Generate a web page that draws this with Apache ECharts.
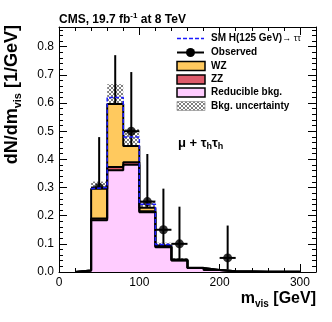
<!DOCTYPE html>
<html><head><meta charset="utf-8">
<script src="https://cdn.jsdelivr.net/npm/echarts@6/dist/echarts.min.js"></script>
<style>html,body{margin:0;padding:0;background:#fff}#c{width:332px;height:322px}</style>
</head><body><div id="c"></div>
<script>
// ---- data ----
const binEdges  = [20,40,60,80,100,120,140,160,180,200,220,240,260,280,300];
const reducible = [0.005,0.184,0.361,0.381,0.212,0.088,0.041,0.014,0.007,0.003,0.002,0.001,0.001,0.001];
const zz        = [0.000,0.006,0.012,0.009,0.004,0.002,0.001,0.000,0.000,0.000,0.000,0.000,0.000,0.000];
const wz        = [0.000,0.106,0.224,0.057,0.012,0.004,0.002,0.001,0.000,0.000,0.000,0.000,0.000,0.000];
const higgs     = [0.000,0.004,0.023,0.032,0.013,0.004,0.000,0.000,0.000,0.000,0.000,0.000,0.000,0.000];
const bkgUnc    = [0.000,0.025,0.070,0.060,0.025,0.010,0.005,0.002,0.001,0.000,0.000,0.000,0.000,0.000];
const obsX      = [50,70,90,110,130,150,210];
const obsY      = [0.30,0.55,0.50,0.25,0.15,0.10,0.05];
const obsLow    = [0.181,0.385,0.344,0.142,0.068,0.035,0.0085];
const obsHigh   = [0.479,0.770,0.710,0.419,0.296,0.232,0.165];
const obsHalfW  = 10;
const xTickLabels = ['0','100','200','300'];
const yTickLabels = ['0.0','0.1','0.2','0.3','0.4','0.5','0.6','0.7','0.8'];

const FONT = 'Liberation Sans, Arial, Helvetica, sans-serif';
const C_WZ = '#FFC95E', C_ZZ = '#DE5A6A', C_RED = '#FFCCFF';

const cum1 = reducible.slice();
const cum2 = cum1.map((v,i)=>v+zz[i]);
const cum3 = cum2.map((v,i)=>v+wz[i]);
const cum4 = cum3.map((v,i)=>v+higgs[i]);

function stepData(vals){
  const n = vals.length;
  const d = [[binEdges[0], 0]];
  for(let i=0;i<n;i++) d.push([binEdges[i], vals[i]]);
  d.push([binEdges[n], vals[n-1]]);
  d.push([binEdges[n], 0]);
  return d;
}
function sigStep(){
  const d=[];
  const idx = higgs.map((h,i)=>h>0?i:-1).filter(i=>i>=0);
  const a=idx[0], b=idx[idx.length-1];
  d.push([binEdges[a], cum3[a]]);
  for(let i=a;i<=b;i++) d.push([binEdges[i], cum4[i]]);
  d.push([binEdges[b+1], cum4[b]]);
  d.push([binEdges[b+1], cum3[b]]);
  return d;
}

// cross-hatch pattern
const pc = document.createElement('canvas'); pc.width=4; pc.height=4;
const px = pc.getContext('2d');
px.fillStyle='rgba(255,255,255,0.25)'; px.fillRect(0,0,4,4);
px.fillStyle='rgba(95,95,95,0.8)';
[[0,0],[1,1],[2,2],[3,3],[3,0],[2,1],[1,2],[0,3]].forEach(p=>px.fillRect(p[0],p[1],1,1));
const hatch = {image: pc, repeat: 'repeat'};

const chart = echarts.init(document.getElementById('c'), null, {renderer:'canvas'});

function axisX(pos, show){
  return {type:'value', position:pos, min:0, max:320, interval:100,
    axisLine:{show:true, onZero:false, lineStyle:{color:'#000', width:1}},
    axisTick:{show:true, inside:true, length:8, lineStyle:{color:'#000'}},
    minorTick:{show:true, splitNumber:5, length:4, lineStyle:{color:'#000'}},
    splitLine:{show:false}, minorSplitLine:{show:false},
    axisLabel:{show:show, color:'#000', fontSize:12, fontFamily:FONT, margin:5,
      formatter:v=>{const i=xTickLabels.indexOf(String(v)); return i>=0?xTickLabels[i]:'';}}};
}
function axisY(pos, show){
  return {type:'value', position:pos, min:0, max:0.87, interval:0.1,
    axisLine:{show:true, onZero:false, lineStyle:{color:'#000', width:1}},
    axisTick:{show:true, inside:true, length:8, lineStyle:{color:'#000'}},
    minorTick:{show:true, splitNumber:5, length:4, lineStyle:{color:'#000'}},
    splitLine:{show:false}, minorSplitLine:{show:false},
    axisLabel:{show:show, color:'#000', fontSize:12, fontFamily:FONT, margin:5,
      formatter:v=>{const i=Math.round(v*10); return (v<0.85 && yTickLabels[i])?yTickLabels[i]:'';}}};
}

function areaSeries(name, vals, color){
  return {name, type:'line', step:'end', data:stepData(vals), symbol:'none', silent:true,
    lineStyle:{color:'#000', width:2}, areaStyle:{color, opacity:1}, xAxisIndex:0, yAxisIndex:0};
}

const option = {
  animation:false,
  grid:{left:59, right:16, top:27, bottom:50, containLabel:false},
  xAxis:[axisX('bottom', true), axisX('top', false)],
  yAxis:[axisY('left', true), axisY('right', false)],
  series:[
    areaSeries('WZ', cum3, C_WZ),
    areaSeries('ZZ', cum2, C_ZZ),
    areaSeries('Reducible bkg.', cum1, C_RED),
    {name:'Bkg. uncertainty', type:'custom', xAxisIndex:0, yAxisIndex:0, silent:true,
      data: bkgUnc.map((u,i)=>[i,u]),
      renderItem:(params, api)=>{
        const i = api.value(0), u = api.value(1);
        if(!(u>0)) return null;
        const p0 = api.coord([binEdges[i], cum3[i]+u]);
        const p1 = api.coord([binEdges[i+1], Math.max(0,cum3[i]-u)]);
        return {type:'rect', shape:{x:p0[0], y:p0[1], width:p1[0]-p0[0], height:p1[1]-p0[1]},
          style:{fill:hatch, stroke:null}};
      }},
    {name:'SM H', type:'line', step:'end', data:sigStep(), symbol:'none', silent:true,
      lineStyle:{color:'#1a1aff', width:1.5, type:[4,2]}},
    {name:'Observed bars', type:'custom', silent:true,
      data: obsX.map((x,i)=>[x, obsY[i], obsLow[i], obsHigh[i]]),
      renderItem:(params, api)=>{
        const x=api.value(0), y=api.value(1), lo=api.value(2), hi=api.value(3);
        const a=api.coord([x,lo]), b=api.coord([x,hi]);
        const l=api.coord([x-obsHalfW,y]), r=api.coord([x+obsHalfW,y]);
        return {type:'group', children:[
          {type:'line', shape:{x1:a[0],y1:a[1],x2:b[0],y2:b[1]}, style:{stroke:'#000', lineWidth:2}},
          {type:'line', shape:{x1:l[0],y1:l[1],x2:r[0],y2:r[1]}, style:{stroke:'#000', lineWidth:2}}
        ]};
      }},
    {name:'Observed', type:'scatter', data: obsX.map((x,i)=>[x,obsY[i]]), symbol:'circle', symbolSize:9,
      itemStyle:{color:'#000'}, silent:true}
  ],
  graphic:[
    {type:'text', x:59, y:12, style:{text:'{b|CMS, 19.7 fb}{p|-1}{b| at 8 TeV}', font:'bold 12px '+FONT,
      rich:{b:{fontSize:12, fontWeight:'bold', fontFamily:FONT, lineHeight:14, verticalAlign:'bottom'},
            p:{fontSize:8, fontWeight:'bold', fontFamily:FONT, lineHeight:14, verticalAlign:'top'}}}},
    {type:'text', x:12, y:25, rotation:Math.PI/2, style:{text:'{m|dN/dm}{s|vis}{m| [1/GeV]}', x:0, y:0,
      align:'right', verticalAlign:'middle', textAlign:'right', textVerticalAlign:'middle',
      rich:{m:{fontSize:18, fontWeight:'bold', fontFamily:FONT, lineHeight:22},
            s:{fontSize:11, fontWeight:'bold', fontFamily:FONT, lineHeight:11, verticalAlign:'bottom'}}}},
    {type:'text', x:316, y:299, style:{text:'{m|m}{s|vis}{m| [GeV]}', x:0, y:0,
      align:'right', verticalAlign:'middle', textAlign:'right', textVerticalAlign:'middle',
      rich:{m:{fontSize:16, fontWeight:'bold', fontFamily:FONT, lineHeight:20},
            s:{fontSize:10, fontWeight:'bold', fontFamily:FONT, lineHeight:10, verticalAlign:'bottom'}}}},
    {type:'text', x:178, y:143, style:{text:'{m|μ + τ}{s|h}{m|τ}{s|h}', x:0, y:0,
      align:'left', verticalAlign:'middle', textAlign:'left', textVerticalAlign:'middle',
      rich:{m:{fontSize:13, fontWeight:'bold', fontFamily:FONT, lineHeight:16},
            s:{fontSize:9, fontWeight:'bold', fontFamily:FONT, lineHeight:8, verticalAlign:'bottom'}}}},
    // legend
    {type:'line', shape:{x1:177,y1:38.5,x2:204,y2:38.5}, style:{stroke:'#1a1aff', lineWidth:1.5, lineDash:[4,2]}},
    {type:'text', x:211, y:38.5, style:{text:'{b|SM H(125 GeV)}{t|→ ττ}', x:0, y:0, verticalAlign:'middle', textVerticalAlign:'middle',
      rich:{b:{fontSize:10, fontWeight:'bold', fontFamily:FONT}, t:{fontSize:9, fontFamily:FONT, color:'#444'}}}},
    {type:'line', shape:{x1:177,y1:52.5,x2:204,y2:52.5}, style:{stroke:'#000', lineWidth:2}},
    {type:'circle', shape:{cx:190.5, cy:52.5, r:4.5}, style:{fill:'#000'}},
    {type:'text', x:211, y:52.5, style:{text:'Observed', x:0,y:0, font:'bold 10px '+FONT, verticalAlign:'middle', textVerticalAlign:'middle', fill:'#000'}},
    {type:'rect', shape:{x:177, y:61.5, width:28, height:9}, style:{fill:C_WZ, stroke:'#000', lineWidth:1.5}},
    {type:'text', x:211, y:66, style:{text:'WZ', x:0,y:0, font:'bold 10px '+FONT, verticalAlign:'middle', textVerticalAlign:'middle', fill:'#000'}},
    {type:'rect', shape:{x:177, y:75, width:28, height:9}, style:{fill:C_ZZ, stroke:'#000', lineWidth:1.5}},
    {type:'text', x:211, y:79.5, style:{text:'ZZ', x:0,y:0, font:'bold 10px '+FONT, verticalAlign:'middle', textVerticalAlign:'middle', fill:'#000'}},
    {type:'rect', shape:{x:177, y:88, width:28, height:9}, style:{fill:C_RED, stroke:'#000', lineWidth:1.5}},
    {type:'text', x:211, y:92.5, style:{text:'Reducible bkg.', x:0,y:0, font:'bold 10px '+FONT, verticalAlign:'middle', textVerticalAlign:'middle', fill:'#000'}},
    {type:'rect', shape:{x:177, y:101.5, width:28, height:9}, style:{fill:hatch, stroke:'#999', lineWidth:0.8}},
    {type:'text', x:211, y:106, style:{text:'Bkg. uncertainty', x:0,y:0, font:'bold 10px '+FONT, verticalAlign:'middle', textVerticalAlign:'middle', fill:'#000'}}
  ]
};
chart.setOption(option);
</script></body></html>
